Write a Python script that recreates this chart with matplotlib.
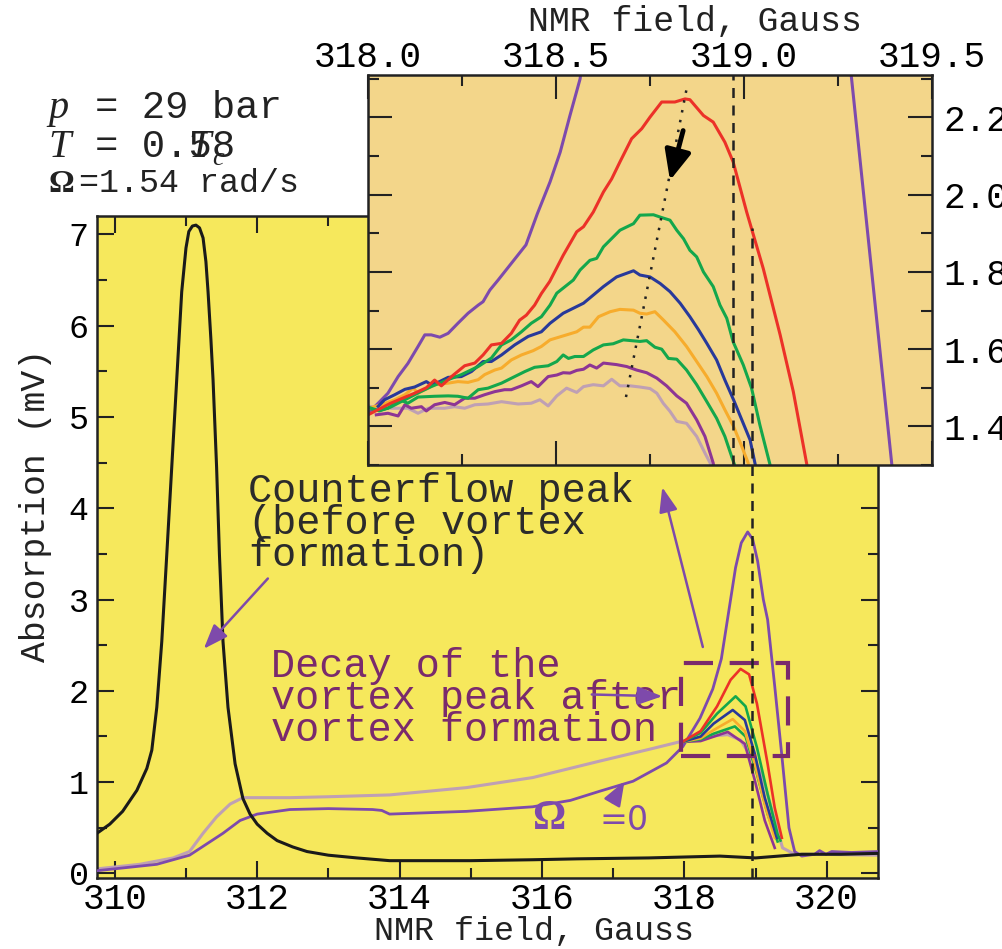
import matplotlib
matplotlib.use("Agg")
import matplotlib.pyplot as plt
from matplotlib.lines import Line2D
from matplotlib.patches import Rectangle
from matplotlib.ticker import MultipleLocator, FormatStrFormatter

plt.rcParams["font.family"] = ["Liberation Mono", "DejaVu Sans Mono"]

MAIN_BG = "#f6e85c"
INSET_BG = "#f3d68a"
C_BLACK = "#1a1a1a"
C_VIOLET = "#7d4aad"
C_MAUVE = "#bfa0b4"
C_RED = "#ec3128"
C_GREEN = "#14a74c"
C_BLUE = "#28399a"
C_ORANGE = "#f7ac2c"
C_PURPLE = "#8d3595"
C_RECT = "#7a2a6c"
C_ARROW = "#7e4aab"

# ---- main panel: field (Gauss) / absorption (mV) ----
black_x = [309.75, 309.93, 310.11, 310.31, 310.45, 310.52, 310.59, 310.66, 310.73, 310.80,
           310.87, 310.94, 311.00, 311.04, 311.09, 311.14, 311.19, 311.24, 311.28, 311.31,
           311.35, 311.38, 311.43, 311.47, 311.52, 311.59, 311.69, 311.80, 311.90, 312.00,
           312.14, 312.28, 312.50, 312.70, 313.00, 313.40, 313.86, 314.50, 315.00, 315.87,
           316.50, 317.50, 318.50, 319.00, 319.65, 320.20, 320.72]
black_y = [0.44, 0.54, 0.68, 0.91, 1.15, 1.35, 1.82, 2.54, 3.49, 4.45,
           5.41, 6.37, 6.85, 7.03, 7.09, 7.10, 7.07, 6.96, 6.70, 6.37,
           5.85, 5.41, 4.45, 3.49, 2.54, 1.82, 1.20, 0.82, 0.65, 0.54,
           0.44, 0.36, 0.29, 0.24, 0.20, 0.17, 0.14, 0.14, 0.14, 0.15,
           0.16, 0.17, 0.19, 0.17, 0.21, 0.21, 0.22]

mauve_x = [309.75, 310.35, 310.82, 311.05, 311.24, 311.43, 311.62, 311.80, 312.46, 313.00,
           313.86, 314.94, 315.87, 316.81, 317.51, 317.98, 318.30, 318.61, 318.79, 319.09,
           319.27, 319.38, 319.55, 319.89, 320.72]
mauve_y = [0.05, 0.10, 0.17, 0.24, 0.44, 0.62, 0.76, 0.83, 0.83, 0.84,
           0.86, 0.94, 1.05, 1.23, 1.36, 1.45, 1.50, 1.52, 1.46, 1.09,
           0.58, 0.28, 0.21, 0.21, 0.20]

violet_x = [309.75, 310.59, 311.05, 311.52, 311.76, 312.00, 312.46, 313.00, 313.62, 313.75,
            313.86, 314.94, 315.87, 316.40, 316.81, 317.28, 317.75, 317.98, 318.22, 318.40,
            318.52, 318.62, 318.72, 318.80, 318.89, 318.96, 319.03, 319.11, 319.17, 319.27,
            319.37, 319.47, 319.55, 319.65, 319.83, 319.90, 319.99, 320.07, 320.35, 320.72]
violet_y = [0.03, 0.10, 0.20, 0.44, 0.58, 0.65, 0.70, 0.71, 0.70, 0.69,
            0.65, 0.68, 0.73, 0.80, 0.90, 1.01, 1.21, 1.39, 1.70, 2.02,
            2.35, 2.85, 3.35, 3.62, 3.74, 3.66, 3.42, 3.00, 2.78, 2.05,
            1.29, 0.50, 0.24, 0.19, 0.21, 0.25, 0.21, 0.24, 0.23, 0.24]

red_x = [317.97, 318.23, 318.46, 318.65, 318.79, 318.91, 319.02, 319.17, 319.27, 319.37]
red_y = [1.44, 1.56, 1.83, 2.12, 2.24, 2.18, 1.86, 1.20, 0.72, 0.39]
green1_x = [317.97, 318.23, 318.46, 318.72, 318.86, 319.02, 319.17, 319.31, 319.35]
green1_y = [1.44, 1.54, 1.75, 1.94, 1.83, 1.38, 0.87, 0.43, 0.36]
blue_x = [317.97, 318.23, 318.41, 318.68, 318.85, 318.99, 319.13, 319.30]
blue_y = [1.44, 1.50, 1.64, 1.79, 1.68, 1.31, 0.83, 0.39]
orange_x = [317.97, 318.23, 318.41, 318.68, 318.85, 318.99, 319.13, 319.27]
orange_y = [1.44, 1.48, 1.57, 1.69, 1.56, 1.20, 0.76, 0.39]
green2_x = [317.97, 318.23, 318.41, 318.71, 318.86, 319.02, 319.17, 319.31]
green2_y = [1.44, 1.47, 1.53, 1.61, 1.50, 1.09, 0.65, 0.35]
purple_x = [317.97, 318.23, 318.61, 318.85, 318.99, 319.13, 319.27]
purple_y = [1.44, 1.45, 1.55, 1.42, 1.02, 0.58, 0.28]

# ---- inset: zoom of the dashed box ----
in_violet_x = [318.000, 318.027, 318.053, 318.080, 318.106, 318.133, 318.151, 318.168, 318.191, 318.213,
               318.239, 318.266, 318.293, 318.306, 318.324, 318.346, 318.420, 318.450, 318.484, 318.511,
               318.537, 318.564, 318.575, 318.900, 319.275, 319.286, 319.393, 319.404]
in_violet_y = [1.434, 1.460, 1.486, 1.529, 1.563, 1.607, 1.637, 1.637, 1.631, 1.641,
               1.667, 1.693, 1.714, 1.723, 1.753, 1.779, 1.870, 1.950, 2.033, 2.110,
               2.205, 2.300, 2.400, 3.750, 2.400, 2.300, 1.301, 1.220]

in_red_x = [318.000, 318.060, 318.124, 318.155, 318.177, 318.195, 318.222, 318.257, 318.284, 318.306,
            318.328, 318.355, 318.381, 318.403, 318.421, 318.443, 318.461, 318.483, 318.519, 318.555,
            318.573, 318.599, 318.626, 318.648, 318.670, 318.701, 318.728, 318.750, 318.781, 318.816,
            318.843, 318.856, 318.892, 318.918, 318.949, 318.971, 319.007, 319.051, 319.096, 319.131,
            319.167, 319.175]
in_red_y = [1.430, 1.460, 1.486, 1.500, 1.520, 1.505, 1.529, 1.557, 1.564, 1.585,
            1.611, 1.615, 1.641, 1.675, 1.688, 1.714, 1.744, 1.775, 1.843, 1.904,
            1.917, 1.955, 2.007, 2.041, 2.085, 2.145, 2.171, 2.201, 2.240, 2.240,
            2.248, 2.246, 2.205, 2.188, 2.136, 2.085, 1.955, 1.809, 1.637, 1.490,
            1.301, 1.250]

in_green1_x = [318.000, 318.030, 318.060, 318.100, 318.140, 318.168, 318.213, 318.248, 318.293, 318.328,
               318.355, 318.381, 318.408, 318.434, 318.461, 318.484, 318.502, 318.524, 318.546, 318.564,
               318.590, 318.608, 318.626, 318.670, 318.706, 318.723, 318.759, 318.777, 318.803, 318.821,
               318.839, 318.856, 318.874, 318.892, 318.918, 318.936, 318.954, 318.971, 318.998, 319.020,
               319.042, 319.069, 319.075]
in_green1_y = [1.450, 1.440, 1.450, 1.470, 1.490, 1.503, 1.521, 1.534, 1.555, 1.577,
               1.611, 1.624, 1.645, 1.667, 1.684, 1.714, 1.745, 1.762, 1.779, 1.805,
               1.830, 1.835, 1.865, 1.908, 1.925, 1.947, 1.948, 1.942, 1.934, 1.908,
               1.886, 1.856, 1.839, 1.800, 1.762, 1.714, 1.680, 1.619, 1.559, 1.499,
               1.404, 1.301, 1.270]

in_blue_x = [318.027, 318.044, 318.071, 318.098, 318.124, 318.155, 318.168, 318.186, 318.213, 318.248,
             318.275, 318.306, 318.328, 318.355, 318.390, 318.426, 318.461, 318.484, 318.519, 318.573,
             318.599, 318.626, 318.661, 318.706, 318.723, 318.750, 318.777, 318.803, 318.830, 318.856,
             318.879, 318.901, 318.927, 318.949, 318.972, 318.994, 319.016, 319.030, 319.035]
in_blue_y = [1.452, 1.469, 1.482, 1.496, 1.502, 1.516, 1.508, 1.514, 1.527, 1.529,
             1.542, 1.568, 1.568, 1.585, 1.611, 1.633, 1.645, 1.667, 1.693, 1.719,
             1.740, 1.762, 1.787, 1.803, 1.792, 1.787, 1.770, 1.749, 1.719, 1.684,
             1.650, 1.615, 1.572, 1.520, 1.469, 1.417, 1.365, 1.300, 1.270]

in_orange_x = [318.000, 318.035, 318.071, 318.098, 318.120, 318.133, 318.151, 318.177, 318.213, 318.239,
               318.266, 318.293, 318.310, 318.337, 318.355, 318.381, 318.408, 318.439, 318.461, 318.484,
               318.528, 318.555, 318.573, 318.590, 318.613, 318.644, 318.670, 318.706, 318.723, 318.741,
               318.763, 318.785, 318.816, 318.847, 318.874, 318.901, 318.927, 318.949, 318.972, 318.994,
               319.011, 319.015]
in_orange_y = [1.447, 1.456, 1.469, 1.482, 1.499, 1.486, 1.495, 1.508, 1.512, 1.516,
               1.514, 1.521, 1.534, 1.546, 1.551, 1.572, 1.585, 1.596, 1.607, 1.624,
               1.637, 1.645, 1.657, 1.657, 1.684, 1.697, 1.703, 1.701, 1.693, 1.691,
               1.697, 1.676, 1.645, 1.607, 1.568, 1.529, 1.486, 1.443, 1.400, 1.348,
               1.305, 1.270]

in_green2_x = [318.000, 318.027, 318.053, 318.084, 318.106, 318.133, 318.177, 318.213, 318.239, 318.266,
               318.293, 318.319, 318.355, 318.390, 318.417, 318.443, 318.479, 318.502, 318.519, 318.533,
               318.550, 318.573, 318.599, 318.626, 318.652, 318.679, 318.701, 318.723, 318.741, 318.763,
               318.781, 318.799, 318.821, 318.847, 318.874, 318.901, 318.927, 318.949, 318.967, 318.976]
in_green2_y = [1.447, 1.441, 1.447, 1.469, 1.460, 1.476, 1.478, 1.479, 1.478, 1.473,
               1.495, 1.499, 1.512, 1.529, 1.542, 1.553, 1.557, 1.568, 1.585, 1.576,
               1.581, 1.581, 1.598, 1.611, 1.614, 1.624, 1.622, 1.620, 1.622, 1.605,
               1.600, 1.576, 1.574, 1.546, 1.508, 1.464, 1.421, 1.374, 1.322, 1.297]

in_purple_x = [318.022, 318.053, 318.080, 318.098, 318.115, 318.142, 318.155, 318.177, 318.204, 318.230,
               318.257, 318.284, 318.310, 318.337, 318.363, 318.381, 318.408, 318.434, 318.452, 318.479,
               318.502, 318.519, 318.537, 318.555, 318.573, 318.590, 318.608, 318.626, 318.661, 318.688,
               318.714, 318.741, 318.768, 318.794, 318.821, 318.847, 318.874, 318.896, 318.918, 318.922]
in_purple_y = [1.430, 1.434, 1.427, 1.456, 1.447, 1.451, 1.440, 1.456, 1.462, 1.456,
               1.473, 1.473, 1.482, 1.490, 1.495, 1.495, 1.505, 1.516, 1.503, 1.529,
               1.533, 1.539, 1.538, 1.545, 1.548, 1.559, 1.551, 1.564, 1.560, 1.555,
               1.546, 1.539, 1.525, 1.505, 1.479, 1.460, 1.417, 1.374, 1.305, 1.280]

in_mauve_x = [318.000, 318.027, 318.071, 318.106, 318.133, 318.160, 318.204, 318.230, 318.257, 318.284,
              318.319, 318.355, 318.399, 318.434, 318.457, 318.479, 318.502, 318.528, 318.555, 318.573,
              318.599, 318.626, 318.648, 318.670, 318.697, 318.723, 318.750, 318.768, 318.785, 318.803,
              318.821, 318.847, 318.874, 318.896, 318.910, 318.915]
in_mauve_y = [1.453, 1.447, 1.447, 1.447, 1.434, 1.447, 1.447, 1.451, 1.447, 1.456,
              1.458, 1.464, 1.458, 1.460, 1.469, 1.453, 1.479, 1.499, 1.488, 1.503,
              1.508, 1.505, 1.522, 1.505, 1.505, 1.502, 1.498, 1.486, 1.460, 1.439,
              1.413, 1.408, 1.374, 1.331, 1.305, 1.280]

# reference marks
DASH_MAIN = 318.95      # field of the dashed line in the main panel
DASH_MAIN_TOP = 7.07
DASH_INSET = 318.971
BOX = (317.95, 1.29, 1.51, 1.01)   # x, y, width, height of the zoom box
DOT_X = [318.686, 318.848]
DOT_Y = [1.476, 2.278]

fig = plt.figure(figsize=(10.02, 9.49), dpi=100)
ax = fig.add_axes([0.0968, 0.0748, 0.7794, 0.6976])
ax.set_facecolor(MAIN_BG)

ax.plot(mauve_x, mauve_y, color=C_MAUVE, lw=2.2, zorder=2)
ax.plot(violet_x, violet_y, color=C_VIOLET, lw=2.0, zorder=3)
for xs, ys, c in [(purple_x, purple_y, C_PURPLE), (green2_x, green2_y, C_GREEN),
                  (orange_x, orange_y, C_ORANGE), (blue_x, blue_y, C_BLUE),
                  (green1_x, green1_y, C_GREEN), (red_x, red_y, C_RED)]:
    ax.plot(xs, ys, color=c, lw=1.9, zorder=4)
ax.plot(black_x, black_y, color=C_BLACK, lw=2.2, zorder=5)

ax.add_patch(Rectangle(BOX[:2], BOX[2], BOX[3], fill=False, edgecolor=C_RECT,
                       lw=3, ls=(0, (7, 4)), zorder=6))

ax.set_xlim(309.75, 320.72)
ax.set_ylim(-0.05, 7.2)
ax.xaxis.set_major_locator(MultipleLocator(2))
ax.xaxis.set_minor_locator(MultipleLocator(1))
ax.yaxis.set_major_locator(MultipleLocator(1))
ax.yaxis.set_minor_locator(MultipleLocator(0.5))
ax.tick_params(which="both", direction="in", top=True, right=True, width=1.5, color="#222222")
ax.tick_params(which="major", length=12)
ax.tick_params(which="minor", length=7)
ax.tick_params(axis="x", labelsize=26, pad=3)
ax.tick_params(axis="y", labelsize=24, pad=6)
for sp in ax.spines.values():
    sp.set_linewidth(1.8)
    sp.set_color("#222222")

ax.set_xlabel("NMR field, Gauss", fontsize=24, color="#222222")
ax.xaxis.set_label_coords(0.56, -0.057)
ax.set_ylabel("Absorption (mV)", fontsize=25, color="#222222")
ax.yaxis.set_label_coords(-0.058, 0.563)

# annotations in the main panel
ax.text(311.87, 4.40, "Counterflow peak\n(before vortex\nformation)", fontsize=29,
        color="#2b2b2b", va="top", ha="left", linespacing=0.8, zorder=7)
ax.text(312.20, 2.48, "Decay of the\nvortex peak after\nvortex formation", fontsize=29,
        color=C_RECT, va="top", ha="left", linespacing=0.8, zorder=7)
ax.text(316.10, 0.60, "Ω", fontsize=30, color=C_ARROW, family="Liberation Serif",
        weight="bold", ha="center", va="center", zorder=7)
ax.text(317.15, 0.58, "=0", fontsize=24, color=C_ARROW, family="DejaVu Sans",
        ha="center", va="center", zorder=7)

arrow_kw = dict(arrowstyle="-|>,head_length=0.75,head_width=0.28", color=C_ARROW,
                lw=1.8, shrinkA=0, shrinkB=0, mutation_scale=20)
for tail, tip in [((312.15, 3.23), (311.25, 2.46)),
                  ((318.26, 2.48), (317.69, 4.23)),
                  ((316.70, 1.96), (317.69, 1.94)),
                  ((316.99, 0.78), (317.16, 1.01))]:
    ax.annotate("", xy=tip, xytext=tail, arrowprops=arrow_kw, zorder=8)

# ---- inset ----
ax2 = fig.add_axes([0.3673, 0.5100, 0.5629, 0.4110])
ax2.set_facecolor(INSET_BG)
for xs, ys, c in [(in_violet_x, in_violet_y, C_VIOLET), (in_mauve_x, in_mauve_y, C_MAUVE),
                  (in_purple_x, in_purple_y, C_PURPLE), (in_green2_x, in_green2_y, C_GREEN),
                  (in_orange_x, in_orange_y, C_ORANGE), (in_blue_x, in_blue_y, C_BLUE),
                  (in_green1_x, in_green1_y, C_GREEN), (in_red_x, in_red_y, C_RED)]:
    ax2.plot(xs, ys, color=c, lw=2.2)
ax2.axvline(DASH_INSET, color="#222222", lw=1.8, ls=(0, (4, 3)))
ax2.plot(DOT_X, DOT_Y, color="#222222", lw=1.8, ls=(0, (1, 3)))
ax2.annotate("", xy=(318.803, 2.037), xytext=(318.838, 2.166),
             arrowprops=dict(arrowstyle="-|>,head_length=0.9,head_width=0.4", color="black",
                             lw=3.5, shrinkA=0, shrinkB=0, mutation_scale=20))

ax2.set_xlim(318.0, 319.5)
ax2.set_ylim(1.30, 2.31)
ax2.xaxis.set_major_locator(MultipleLocator(0.5))
ax2.xaxis.set_minor_locator(MultipleLocator(0.25))
ax2.yaxis.set_major_locator(MultipleLocator(0.2))
ax2.yaxis.set_minor_locator(MultipleLocator(0.1))
ax2.xaxis.set_major_formatter(FormatStrFormatter("%.1f"))
ax2.yaxis.set_major_formatter(FormatStrFormatter("%.1f"))
ax2.tick_params(which="both", direction="in", top=True, bottom=True, left=True, right=True,
                labeltop=True, labelbottom=False, labelleft=False, labelright=True,
                width=1.5, color="#222222")
ax2.tick_params(which="major", length=17)
ax2.tick_params(which="minor", length=8)
ax2.tick_params(axis="x", labelsize=26, pad=0)
ax2.tick_params(axis="y", labelsize=26, pad=8)
for sp in ax2.spines.values():
    sp.set_linewidth(1.8)
    sp.set_color("#222222")
ax2.xaxis.set_label_position("top")
ax2.set_xlabel("NMR field, Gauss", fontsize=25, color="#222222")
ax2.xaxis.set_label_coords(0.58, 1.112)

# main dashed marker runs over the inset as well
fig.add_artist(Line2D([DASH_MAIN, DASH_MAIN], [-0.05, DASH_MAIN_TOP], transform=ax.transData,
                      color="#222222", lw=1.8, ls=(0, (4, 3)), zorder=5))

# ---- conditions block (top left) ----
serif = "Liberation Serif"
fig.text(0.048, 0.876, "p", fontsize=29, family=serif, style="italic", color="#222222")
fig.text(0.095, 0.876, "= 29 bar", fontsize=28, color="#222222")
fig.text(0.048, 0.835, "T", fontsize=29, family=serif, style="italic", color="#222222")
fig.text(0.095, 0.835, "= 0.58", fontsize=28, color="#222222")
fig.text(0.188, 0.835, "T", fontsize=29, family=serif, style="italic", color="#222222")
fig.text(0.212, 0.826, "c", fontsize=19, family=serif, style="italic", color="#222222")
fig.text(0.048, 0.798, "Ω", fontsize=23, family=serif, weight="bold", color="#222222")
fig.text(0.079, 0.798, "=1.54 rad/s", fontsize=24, color="#222222")

fig.savefig("out.png", dpi=100)
